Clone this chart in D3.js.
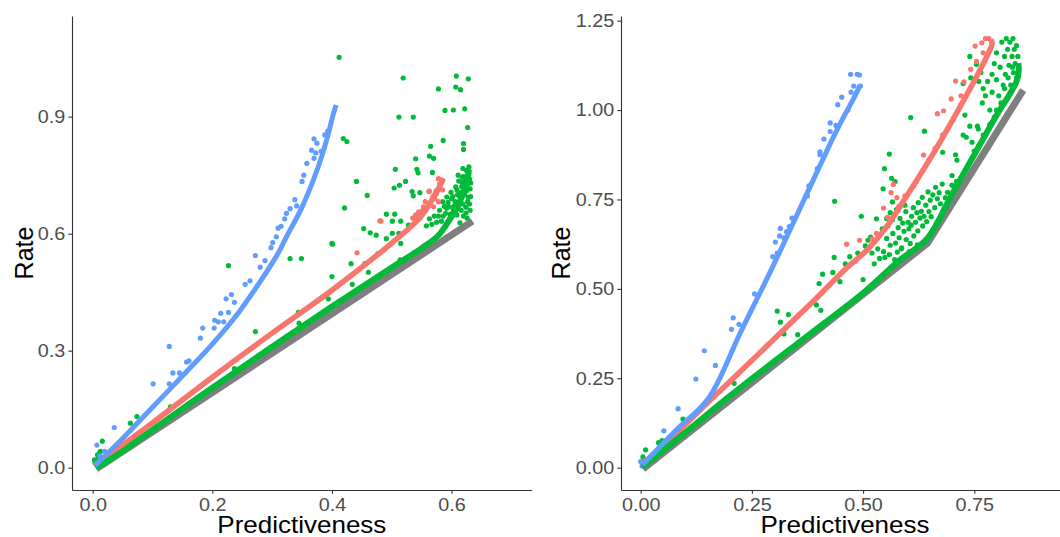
<!DOCTYPE html>
<html>
<head>
<meta charset="utf-8">
<script src="https://cdn.jsdelivr.net/npm/d3@7"></script>
<style>
  body { margin: 0; background: #fff; }
  svg { display: block; }
</style>
</head>
<body>
<svg id="chart" width="1060" height="537"></svg>
<script>
// ---------- Panel A (left) ----------
const aTicksX = [0, 0.2, 0.4, 0.6];
const aTicksY = [0, 0.3, 0.6, 0.9];

const aGrayLine = [[0.006, -0.003], [0.635, 0.632]];
const aGreenLine = [[0.005, 0.0], [0.03, 0.022], [0.06, 0.053], [0.1, 0.097], [0.2, 0.205], [0.3, 0.31],
  [0.4, 0.413], [0.5, 0.513], [0.55, 0.563], [0.577, 0.594], [0.595, 0.632], [0.61, 0.67],
  [0.62, 0.705], [0.627, 0.74], [0.629, 0.765]];
const aRedLine = [[0.003, 0.004], [0.05, 0.058], [0.1, 0.115], [0.2, 0.232], [0.3, 0.345], [0.4, 0.455],
  [0.486, 0.558], [0.53, 0.615], [0.548, 0.643], [0.562, 0.672], [0.572, 0.7], [0.58, 0.72], [0.586, 0.742]];
const aBlueLine = [[0.004, 0.006], [0.05, 0.075], [0.1, 0.155], [0.15, 0.235], [0.203, 0.322], [0.245, 0.4],
  [0.283, 0.484], [0.31, 0.55], [0.324, 0.592], [0.35, 0.668], [0.376, 0.767], [0.392, 0.845],
  [0.402, 0.905], [0.407, 0.93]];

const aBluePts = [[0.007, 0.058], [0.036, 0.103], [0.101, 0.215], [0.128, 0.311], [0.128, 0.215], [0.134, 0.243],
  [0.145, 0.243], [0.157, 0.271], [0.161, 0.274], [0.18, 0.332], [0.184, 0.358], [0.203, 0.358],
  [0.204, 0.378], [0.21, 0.374], [0.214, 0.396], [0.219, 0.374], [0.223, 0.433], [0.227, 0.398],
  [0.232, 0.444], [0.237, 0.424], [0.255, 0.47], [0.263, 0.479], [0.272, 0.544], [0.28, 0.514],
  [0.288, 0.531], [0.298, 0.564], [0.301, 0.577], [0.307, 0.592], [0.31, 0.614], [0.315, 0.619],
  [0.321, 0.638], [0.324, 0.652], [0.33, 0.664], [0.338, 0.687], [0.341, 0.671], [0.35, 0.734],
  [0.353, 0.75], [0.358, 0.78], [0.366, 0.814], [0.37, 0.843], [0.37, 0.793], [0.373, 0.807],
  [0.375, 0.832], [0.382, 0.811], [0.388, 0.853], [0.393, 0.863], [0.012, 0.03], [0.02, 0.042]];

const aRedPts = [[0.482, 0.632], [0.442, 0.551], [0.48, 0.633], [0.562, 0.708], [0.584, 0.737], [0.54, 0.648],
  [0.545, 0.656], [0.55, 0.652], [0.553, 0.669], [0.558, 0.665], [0.564, 0.673], [0.567, 0.686],
  [0.572, 0.69], [0.575, 0.703], [0.578, 0.715], [0.58, 0.728], [0.542, 0.635], [0.547, 0.64],
  [0.57, 0.669], [0.556, 0.682], [0.578, 0.682], [0.585, 0.712], [0.563, 0.709], [0.578, 0.741],
  [0.552, 0.66], [0.561, 0.678], [0.569, 0.695], [0.574, 0.71], [0.544, 0.645], [0.535, 0.64]];

const aGreenPts = [[0.412, 1.052], [0.519, 0.999], [0.608, 1.004], [0.628, 0.997], [0.607, 0.976],
  [0.615, 0.969], [0.578, 0.971], [0.512, 0.899], [0.536, 0.899], [0.589, 0.916], [0.603, 0.917],
  [0.622, 0.92], [0.627, 0.872], [0.419, 0.844], [0.425, 0.836], [0.586, 0.839], [0.62, 0.831],
  [0.62, 0.816], [0.565, 0.824], [0.54, 0.792], [0.563, 0.799], [0.57, 0.793], [0.506, 0.765],
  [0.542, 0.765], [0.544, 0.756], [0.568, 0.757], [0.619, 0.767], [0.629, 0.771], [0.441, 0.734],
  [0.523, 0.734], [0.513, 0.724], [0.504, 0.717], [0.534, 0.708], [0.536, 0.697], [0.547, 0.705],
  [0.459, 0.698], [0.421, 0.666], [0.491, 0.65], [0.505, 0.65], [0.501, 0.632], [0.515, 0.632],
  [0.528, 0.622], [0.453, 0.613], [0.464, 0.602], [0.474, 0.596], [0.491, 0.587], [0.501, 0.601],
  [0.512, 0.601], [0.4, 0.575], [0.515, 0.575], [0.585, 0.682], [0.592, 0.694], [0.599, 0.706],
  [0.596, 0.669], [0.606, 0.682], [0.603, 0.661], [0.609, 0.648], [0.614, 0.694], [0.617, 0.72],
  [0.62, 0.746], [0.611, 0.75], [0.623, 0.735], [0.625, 0.71], [0.628, 0.693], [0.63, 0.676],
  [0.619, 0.676], [0.625, 0.762], [0.617, 0.732], [0.586, 0.645], [0.575, 0.629], [0.567, 0.624],
  [0.558, 0.62], [0.578, 0.645], [0.597, 0.637], [0.614, 0.628], [0.62, 0.645], [0.624, 0.653],
  [0.592, 0.665], [0.6, 0.69], [0.609, 0.712], [0.613, 0.678], [0.604, 0.67], [0.33, 0.536],
  [0.349, 0.536], [0.227, 0.518], [0.4, 0.49], [0.432, 0.523], [0.455, 0.523], [0.461, 0.501],
  [0.434, 0.47], [0.394, 0.433], [0.477, 0.549], [0.345, 0.371], [0.344, 0.398], [0.272, 0.349],
  [0.237, 0.254], [0.13, 0.156], [0.074, 0.131], [0.063, 0.114], [0.016, 0.068], [0.013, 0.042],
  [0.008, 0.033], [0.006, 0.02], [0.003, 0.02], [0.012, 0.04], [0.004, 0.012], [0.01, 0.028],
  [0.514, 0.533], [0.401, 0.573],
  [0.622, 0.7], [0.626, 0.724], [0.63, 0.74], [0.631, 0.715], [0.632, 0.695], [0.627, 0.682],
  [0.624, 0.668], [0.616, 0.66], [0.611, 0.665], [0.606, 0.655], [0.598, 0.65], [0.59, 0.652],
  [0.602, 0.695], [0.61, 0.7], [0.615, 0.705], [0.62, 0.72], [0.624, 0.745], [0.628, 0.755],
  [0.618, 0.745], [0.612, 0.735], [0.607, 0.72], [0.594, 0.68], [0.588, 0.67], [0.58, 0.66],
  [0.571, 0.645], [0.563, 0.638], [0.583, 0.632], [0.631, 0.66], [0.626, 0.64], [0.632, 0.73]];

// ---------- Panel B (right) ----------
const bTicksX = [0, 0.25, 0.5, 0.75];
const bTicksY = [0, 0.25, 0.5, 0.75, 1.0, 1.25];

const bGrayLine = [[0.005, -0.004], [0.645, 0.628], [0.86, 1.056]];
const bGreenLine = [[0.004, 0.002], [0.1, 0.098], [0.2, 0.2], [0.3, 0.297], [0.4, 0.392], [0.5, 0.488],
  [0.58, 0.578], [0.645, 0.642], [0.7, 0.765], [0.75, 0.875], [0.8, 0.985], [0.83, 1.045],
  [0.845, 1.08], [0.85, 1.11], [0.849, 1.131]];
const bRedLine = [[0.004, 0.008], [0.1, 0.12], [0.153, 0.185], [0.2, 0.24], [0.3, 0.36], [0.4, 0.48],
  [0.46, 0.555], [0.51, 0.61], [0.553, 0.674], [0.59, 0.744], [0.658, 0.879], [0.718, 1.009],
  [0.763, 1.112], [0.782, 1.16], [0.79, 1.185], [0.788, 1.198]];
const bBlueLine = [[0.004, 0.008], [0.08, 0.105], [0.153, 0.195], [0.225, 0.38], [0.298, 0.565],
  [0.381, 0.786], [0.441, 0.944], [0.486, 1.05], [0.493, 1.07]];

const bBluePts = [[0.0, 0.017], [0.003, 0.005], [0.052, 0.103], [0.084, 0.165], [0.124, 0.248],
  [0.143, 0.327], [0.168, 0.286], [0.204, 0.387], [0.208, 0.419], [0.221, 0.401], [0.256, 0.486],
  [0.297, 0.59], [0.303, 0.631], [0.307, 0.6], [0.314, 0.669], [0.312, 0.648], [0.322, 0.643],
  [0.328, 0.66], [0.334, 0.674], [0.34, 0.698], [0.375, 0.76], [0.378, 0.788], [0.397, 0.836],
  [0.403, 0.883], [0.403, 0.875], [0.412, 0.919], [0.426, 0.964], [0.426, 0.94], [0.439, 0.957],
  [0.443, 1.015], [0.452, 1.036], [0.466, 1.0], [0.472, 1.1], [0.487, 1.1], [0.492, 1.098],
  [0.479, 1.067], [0.473, 1.05], [0.494, 1.067]];

const bRedPts = [[0.01, 0.02], [0.463, 0.625], [0.492, 0.636], [0.52, 0.64], [0.53, 0.655], [0.546, 0.726],
  [0.555, 0.7], [0.563, 0.769], [0.568, 0.792], [0.576, 0.755], [0.58, 0.73], [0.594, 0.76],
  [0.614, 0.788], [0.62, 0.8], [0.636, 0.874], [0.648, 0.86], [0.662, 0.893], [0.679, 0.931],
  [0.667, 0.99], [0.681, 0.998], [0.698, 1.031], [0.708, 1.081], [0.727, 1.079], [0.72, 1.04],
  [0.742, 1.114], [0.755, 1.136], [0.752, 1.179], [0.767, 1.188], [0.77, 1.16], [0.783, 1.2], [0.775, 1.2]];

const bGreenPts = [[0.011, 0.05], [0.005, 0.03], [0.003, 0.015], [0.008, 0.022], [0.048, 0.076], [0.04, 0.07],
  [0.095, 0.136], [0.21, 0.236], [0.307, 0.438], [0.314, 0.407], [0.332, 0.428], [0.322, 0.374],
  [0.353, 0.372], [0.395, 0.455], [0.405, 0.44], [0.401, 0.515], [0.409, 0.541], [0.432, 0.546],
  [0.435, 0.588], [0.436, 0.745], [0.448, 0.52], [0.46, 0.57], [0.47, 0.59], [0.482, 0.577],
  [0.488, 0.6], [0.496, 0.703], [0.5, 0.526], [0.505, 0.62], [0.511, 0.636], [0.52, 0.6],
  [0.525, 0.57], [0.53, 0.696], [0.548, 0.836], [0.559, 0.877], [0.564, 0.809], [0.572, 0.8],
  [0.545, 0.78], [0.607, 0.979], [0.638, 0.941],
  [0.517, 0.645], [0.533, 0.612], [0.537, 0.585], [0.543, 0.668], [0.546, 0.604], [0.553, 0.641],
  [0.549, 0.588], [0.556, 0.676], [0.561, 0.622], [0.559, 0.596], [0.567, 0.655], [0.566, 0.693],
  [0.573, 0.628], [0.577, 0.603], [0.579, 0.671], [0.583, 0.697], [0.581, 0.643], [0.589, 0.684],
  [0.587, 0.615], [0.592, 0.661], [0.596, 0.716], [0.597, 0.638], [0.601, 0.686], [0.603, 0.668],
  [0.606, 0.627], [0.609, 0.703], [0.608, 0.678], [0.613, 0.727], [0.614, 0.648], [0.618, 0.686],
  [0.621, 0.713], [0.623, 0.662], [0.624, 0.741], [0.628, 0.698], [0.631, 0.717], [0.634, 0.676],
  [0.633, 0.756], [0.637, 0.703], [0.641, 0.734], [0.643, 0.688], [0.646, 0.771], [0.648, 0.716],
  [0.651, 0.748], [0.653, 0.702], [0.657, 0.763], [0.661, 0.727], [0.663, 0.784], [0.667, 0.752],
  [0.671, 0.769], [0.674, 0.738], [0.678, 0.793], [0.622, 0.623], [0.604, 0.604], [0.586, 0.612],
  [0.571, 0.582], [0.594, 0.734], [0.575, 0.722], [0.561, 0.713], [0.553, 0.697], [0.566, 0.743],
  [0.679, 0.882], [0.7, 0.817], [0.711, 0.86], [0.708, 0.875], [0.729, 0.986], [0.74, 0.955],
  [0.732, 0.924], [0.725, 0.93], [0.757, 0.955], [0.759, 0.947], [0.725, 1.074], [0.74, 1.15],
  [0.742, 1.09], [0.765, 1.105], [0.755, 1.128], [0.76, 1.08], [0.77, 1.06], [0.775, 1.04],
  [0.768, 1.02], [0.78, 1.08], [0.785, 1.0], [0.79, 1.1], [0.795, 1.13], [0.79, 1.05], [0.8, 1.085],
  [0.8, 1.16], [0.805, 1.04], [0.808, 1.12], [0.812, 1.19], [0.815, 1.07], [0.818, 1.15], [0.82, 1.1],
  [0.822, 1.2], [0.825, 1.17], [0.828, 1.125], [0.83, 1.19], [0.832, 1.07], [0.835, 1.15], [0.837, 1.2],
  [0.838, 1.105], [0.84, 1.17], [0.842, 1.13], [0.845, 1.18], [0.845, 1.09], [0.848, 1.15],
  [0.836, 1.12], [0.826, 1.09], [0.818, 1.06], [0.81, 1.02], [0.8, 1.0], [0.795, 0.98], [0.785, 0.96],
  [0.77, 0.93], [0.76, 0.9], [0.75, 0.885], [0.745, 0.91], [0.7, 0.79], [0.69, 0.77], [0.685, 0.755],
  [0.71, 0.8]];

// ---------- drawing ----------
const COL = { red: "#F8766D", green: "#00BA38", blue: "#619CFF", gray: "#7F7F7F" };
const FONT = "'Liberation Sans', Arial, Helvetica, sans-serif";
const svg = d3.select("#chart");

const panels = [
  {
    x: d3.scaleLinear().domain([-0.0346, 0.734]).range([72, 531.7]),
    y: d3.scaleLinear().domain([-0.0572, 1.158]).range([490, 16]),
    ticksX: aTicksX, ticksY: aTicksY, fmt: d3.format(".1f"),
    gray: aGrayLine, green: aGreenLine, red: aRedLine, blue: aBlueLine,
    gPts: aGreenPts, rPts: aRedPts, bPts: aBluePts,
    titleX: 32.5
  },
  {
    x: d3.scaleLinear().domain([-0.0443, 0.963]).range([621, 1069]),
    y: d3.scaleLinear().domain([-0.0624, 1.263]).range([490, 16]),
    ticksX: bTicksX, ticksY: bTicksY, fmt: d3.format(".2f"),
    gray: bGrayLine, green: bGreenLine, red: bRedLine, blue: bBlueLine,
    gPts: bGreenPts, rPts: bRedPts, bPts: bBluePts,
    titleX: 570
  }
];

// widen a text horizontally around its own anchor point
function widen(sel, k) {
  sel.each(function () {
    const t = d3.select(this);
    const x = +t.attr("x") || 0, y = +t.attr("y") || 0;
    t.attr("x", 0).attr("y", 0).attr("transform", `translate(${x},${y}) scale(${k},1)`);
  });
}

panels.forEach(p => {
  const g = svg.append("g");
  const [x0, x1] = p.x.range();
  const [y0, y1] = p.y.range();

  const dots = (data, color) => g.append("g").selectAll("circle").data(data).join("circle")
    .attr("cx", d => p.x(d[0])).attr("cy", d => p.y(d[1])).attr("r", 2.6).attr("fill", color);
  dots(p.gPts, COL.green);
  dots(p.rPts, COL.red);
  dots(p.bPts, COL.blue);

  const lin = d3.line().x(d => p.x(d[0])).y(d => p.y(d[1]));
  const smooth = d3.line().x(d => p.x(d[0])).y(d => p.y(d[1])).curve(d3.curveCatmullRom.alpha(0.5));
  g.append("path").attr("d", lin(p.gray)).attr("fill", "none").attr("stroke", COL.gray).attr("stroke-width", 7);
  g.append("path").attr("d", smooth(p.red)).attr("fill", "none").attr("stroke", COL.red).attr("stroke-width", 5.5);
  g.append("path").attr("d", smooth(p.green)).attr("fill", "none").attr("stroke", COL.green).attr("stroke-width", 6);
  g.append("path").attr("d", smooth(p.blue)).attr("fill", "none").attr("stroke", COL.blue).attr("stroke-width", 5);

  // axes
  const ax = g.append("g").attr("transform", `translate(0,${y0})`)
    .call(d3.axisBottom(p.x).tickValues(p.ticksX).tickFormat(p.fmt).tickSize(3.7).tickSizeOuter(0).tickPadding(4.5));
  const ay = g.append("g").attr("transform", `translate(${x0},0)`)
    .call(d3.axisLeft(p.y).tickValues(p.ticksY).tickFormat(p.fmt).tickSize(3.7).tickSizeOuter(0).tickPadding(3));
  [ax, ay].forEach(a => {
    a.select(".domain").attr("stroke", "#333").attr("stroke-width", 1.1);
    a.selectAll(".tick line").attr("stroke", "#333").attr("stroke-width", 1.1);
    a.selectAll(".tick text").attr("fill", "#4D4D4D").style("font-family", FONT).style("font-size", "18px");
    widen(a.selectAll(".tick text"), 1.1);
  });

  g.append("text").attr("x", (x0 + x1) / 2).attr("y", 532.5).attr("text-anchor", "middle")
    .style("font-family", FONT).style("font-size", "24px").attr("fill", "#000")
    .attr("textLength", 169).attr("lengthAdjust", "spacingAndGlyphs").text("Predictiveness");
  g.append("text").attr("transform", `translate(${p.titleX},${(y0 + y1) / 2}) rotate(-90)`)
    .attr("text-anchor", "middle").style("font-family", FONT).style("font-size", "25px")
    .attr("fill", "#000").text("Rate");
});
</script>
</body>
</html>
